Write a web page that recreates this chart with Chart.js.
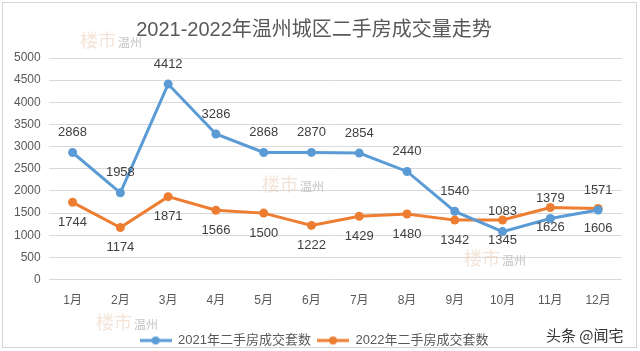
<!DOCTYPE html>
<html>
<head>
<meta charset="utf-8">
<script src="https://cdn.jsdelivr.net/npm/chart.js@4.4.0/dist/chart.umd.min.js"></script>
<style>
  html, body { margin: 0; padding: 0; background: #fff; }
  #wrap { position: relative; width: 640px; height: 351px; }
  #frame { position: absolute; left: 2px; top: 2px; width: 633px; height: 344px; border: 1px solid #d4d4d4; pointer-events: none; }
  .wm { position: absolute; font-family: 'Noto Sans CJK SC', sans-serif; pointer-events: none; }
  .wm .lou { color: rgba(236, 210, 188, 0.6); font-size: 18px; }
  .wm .wz { color: #c4c4c4; font-size: 12px; margin-left: 2px; }
  #tt { position: absolute; left: 546px; top: 324px; font-family: 'Noto Sans CJK SC', sans-serif; font-size: 15px; color: #333; }
</style>
</head>
<body>
<div id="wrap">
  <canvas id="chart" width="640" height="351"></canvas>
  <div id="frame"></div>
  <div class="wm" style="left:80px;top:26px"><span class="lou">楼市</span><span class="wz">温州</span></div>
  <div class="wm" style="left:262px;top:170px"><span class="lou">楼市</span><span class="wz">温州</span></div>
  <div class="wm" style="left:464px;top:244px"><span class="lou">楼市</span><span class="wz">温州</span></div>
  <div class="wm" style="left:96px;top:308px"><span class="lou">楼市</span><span class="wz">温州</span></div>
  <div id="tt">头条 @闻宅</div>
</div>
<script>
// ── Data ──────────────────────────────────────────────────────────────────────
const months = ['1月', '2月', '3月', '4月', '5月', '6月', '7月', '8月', '9月', '10月', '11月', '12月'];
const sales2021 = [2868, 1958, 4412, 3286, 2868, 2870, 2854, 2440, 1540, 1083, 1379, 1571];
const sales2022 = [1744, 1174, 1871, 1566, 1500, 1222, 1429, 1480, 1342, 1345, 1626, 1606];

const BLUE = '#5b9bd5';
const ORANGE = '#ed7d31';
const FONT = "'Liberation Sans', 'Noto Sans CJK SC', sans-serif";

// legend marker: line with a dot
function marker(color) {
  const c = document.createElement('canvas');
  c.width = 32; c.height = 10;
  const g = c.getContext('2d');
  g.strokeStyle = color; g.lineWidth = 3;
  g.beginPath(); g.moveTo(0, 5); g.lineTo(32, 5); g.stroke();
  g.fillStyle = color;
  g.beginPath(); g.arc(16, 5, 4, 0, Math.PI * 2); g.fill();
  return c;
}

// ── Value labels (blue above, orange below) ──────────────────────────────────
const valueLabels = {
  id: 'valueLabels',
  afterDatasetsDraw(chart) {
    const ctx = chart.ctx;
    ctx.save();
    ctx.font = '13px ' + FONT;
    ctx.fillStyle = '#404040';
    ctx.textAlign = 'center';
    ctx.textBaseline = 'middle';
    chart.data.datasets.forEach((ds, i) => {
      const off = i === 0 ? -20 : 20;
      chart.getDatasetMeta(i).data.forEach((pt, j) => {
        ctx.fillText(String(ds.data[j]), pt.x, pt.y + off);
      });
    });
    ctx.restore();
  }
};

new Chart(document.getElementById('chart').getContext('2d'), {
  type: 'line',
  data: {
    labels: months,
    datasets: [
      { label: '2021年二手房成交套数', data: sales2021, borderColor: BLUE, backgroundColor: BLUE, borderWidth: 3, pointRadius: 4.5, pointBorderWidth: 0, tension: 0 },
      { label: '2022年二手房成交套数', data: sales2022, borderColor: ORANGE, backgroundColor: ORANGE, borderWidth: 3, pointRadius: 4.5, pointBorderWidth: 0, tension: 0 },
    ],
  },
  options: {
    responsive: false,
    animation: false,
    layout: { padding: { left: 6, right: 18, top: 6, bottom: -6 } },
    scales: {
      x: {
        offset: true,
        grid: { display: false },
        border: { display: false },
        ticks: { color: '#595959', font: { size: 12, family: FONT }, padding: 6, maxRotation: 0 },
        afterFit: scale => { scale.height += 14; },
      },
      y: {
        min: 0, max: 5000,
        grid: { color: '#d9d9d9', drawTicks: false },
        border: { display: false },
        ticks: { stepSize: 500, color: '#595959', font: { size: 12, family: FONT }, padding: 8, callback: v => String(v) },
      },
    },
    plugins: {
      title: { display: true, text: '2021-2022年温州城区二手房成交量走势', color: '#595959', font: { size: 20, weight: 'normal', family: FONT }, padding: { top: 12, bottom: 16 } },
      legend: {
        position: 'bottom',
        labels: {
          color: '#595959',
          font: { size: 13, family: FONT },
          usePointStyle: true,
          pointStyleWidth: 32,
          padding: 6,
          generateLabels(chart) {
            return chart.data.datasets.map((ds, i) => ({
              text: ds.label, fontColor: '#595959', pointStyle: marker(ds.borderColor),
              strokeStyle: ds.borderColor, fillStyle: ds.borderColor, lineWidth: 0, datasetIndex: i, hidden: false,
            }));
          },
        },
      },
      tooltip: { enabled: false },
    },
  },
  plugins: [valueLabels],
});
</script>
</body>
</html>
